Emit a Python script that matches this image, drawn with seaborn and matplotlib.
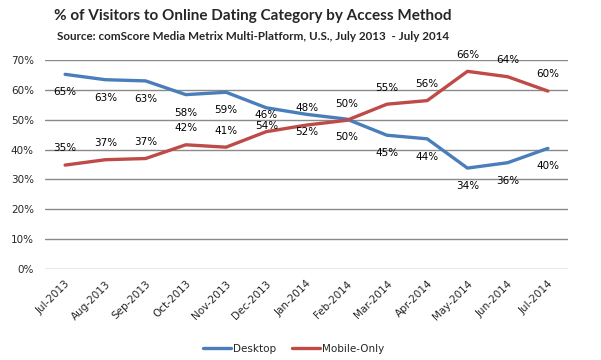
import matplotlib
matplotlib.use("Agg")
import matplotlib.pyplot as plt
import seaborn as sns
import pandas as pd
from matplotlib.ticker import FuncFormatter
from matplotlib.lines import Line2D

months = ["Jul-2013", "Aug-2013", "Sep-2013", "Oct-2013", "Nov-2013", "Dec-2013",
          "Jan-2014", "Feb-2014", "Mar-2014", "Apr-2014", "May-2014", "Jun-2014", "Jul-2014"]
desktop = [65.2, 63.4, 63.0, 58.4, 59.2, 54.0, 51.8, 50.2, 44.8, 43.6, 33.8, 35.6, 40.4]
mobile_only = [34.8, 36.6, 37.0, 41.6, 40.8, 46.0, 48.2, 49.8, 55.2, 56.4, 66.2, 64.4, 59.6]

series_names = ["Desktop", "Mobile-Only"]
colors = {"Desktop": "#4A7EBB", "Mobile-Only": "#BE4B48"}

df = pd.DataFrame({"month": months, "Desktop": desktop, "Mobile-Only": mobile_only})
df["x"] = range(len(months))
long = df.melt(id_vars=["month", "x"], value_vars=series_names,
               var_name="method", value_name="pct")

sns.set_theme(style="white")
plt.rcParams["font.family"] = ["DejaVu Sans"]

fig = plt.figure(figsize=(6.01, 3.6), dpi=100)
ax = fig.add_axes([45 / 601, 91 / 360, 523 / 601, 209 / 360])

sns.lineplot(data=long, x="x", y="pct", hue="method", palette=colors,
             hue_order=series_names, linewidth=2.4, ax=ax, legend=False)

# data labels: desktop below the line, mobile above
for v, xv in zip(desktop, df["x"]):
    ax.annotate(f"{round(v)}%", (xv, v), xytext=(0, -13), textcoords="offset points",
                ha="center", va="center", fontsize=7.5, color="#000000")
for v, xv in zip(mobile_only, df["x"]):
    ax.annotate(f"{round(v)}%", (xv, v), xytext=(0, 12), textcoords="offset points",
                ha="center", va="center", fontsize=7.5, color="#000000")

ax.set_xlim(-0.5, len(months) - 0.5)
ax.set_ylim(0, 70)
ax.set_yticks(range(0, 71, 10))
ax.yaxis.set_major_formatter(FuncFormatter(lambda v, p: f"{int(v)}%"))
ax.set_xticks(df["x"])
ax.set_xticklabels(months, rotation=45, ha="right", rotation_mode="anchor", fontsize=7.5)
ax.tick_params(axis="y", labelsize=7.5, length=0, pad=8)
ax.tick_params(axis="x", length=0, pad=7)
ax.grid(axis="y", color="#8a8a8a", linewidth=1)
ax.grid(axis="x", visible=False)
for s in ax.spines.values():
    s.set_visible(False)
ax.set_xlabel("")
ax.set_ylabel("")

handles = [Line2D([0], [0], color=colors[n], linewidth=2.4) for n in series_names]
fig.legend(handles, series_names, loc="center", bbox_to_anchor=(294 / 601, 1 - 349 / 360),
           ncol=2, frameon=False, fontsize=7.5, handlelength=2.7, handletextpad=0.2,
           columnspacing=1.5)

fig.text(253 / 601, 1 - 16 / 360, "% of Visitors to Online Dating Category by Access Method",
         ha="center", va="center", fontsize=11, fontweight="bold", family="Lato")
fig.text(253 / 601, 1 - 37 / 360,
         "Source: comScore Media Metrix Multi-Platform, U.S., July 2013  - July 2014",
         ha="center", va="center", fontsize=8.4, fontweight="bold", family="Lato")

fig.savefig("out.png", dpi=100)
